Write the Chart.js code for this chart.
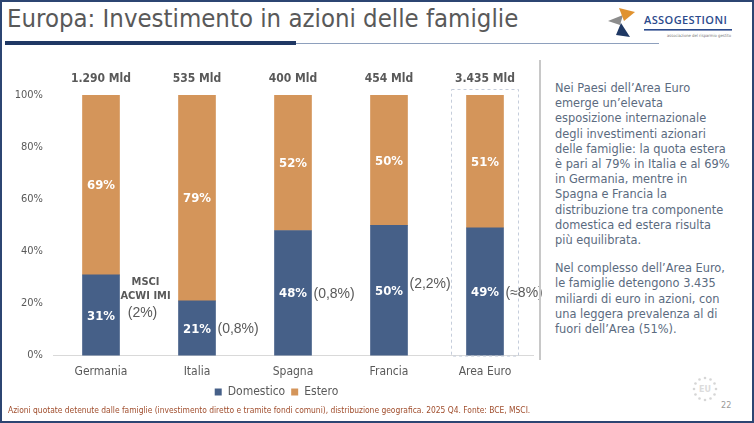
<!DOCTYPE html>
<html lang="it">
<head>
<meta charset="utf-8">
<script src="https://cdn.jsdelivr.net/npm/chart.js@4/dist/chart.umd.min.js"></script>
<style>
  html, body { margin: 0; padding: 0; background: #fff; }
  #page {
    position: relative; width: 754px; height: 423px; box-sizing: border-box;
    border: 2px solid #2c4572; overflow: hidden; font-family: "DejaVu Sans Condensed", "DejaVu Sans", sans-serif;
  }
  #title {
    position: absolute; left: 5px; top: 1px; font-size: 25.5px; color: #595959; white-space: nowrap;
  }
  #rule-thick { position: absolute; left: 3px; top: 39px; width: 291px; height: 4px; background: #1f3864; }
  #rule-thin { position: absolute; left: 294px; top: 41px; width: 363px; height: 1px; background: #8ea0bd; }
  #logo { position: absolute; left: 602px; top: 3px; }
  #chartBox { position: absolute; left: 0; top: 58px; width: 548px; height: 356px; }
  #sep { position: absolute; left: 537px; top: 58px; width: 2px; height: 300px; background: #c8c8c8; }
  #note {
    position: absolute; left: 553px; top: 79px; width: 196px; white-space: nowrap;
    font-family: "DejaVu Sans", sans-serif; font-size: 11.4px; line-height: 15.2px; color: #5b6b80;
  }
  #note p { margin: 0 0 13px 0; }
  #footer {
    position: absolute; left: 6px; top: 403px; font-family: "Liberation Sans Narrow", "DejaVu Sans Condensed", sans-serif;
    font-size: 8.4px; color: #a04d2c; white-space: nowrap;
  }
  #eu { position: absolute; left: 688px; top: 372px; }
  #pagenum { position: absolute; left: 719px; top: 398px; font-size: 9px; color: #9a9a9a; }
</style>
</head>
<body>
<div id="page">
  <div id="title">Europa: Investimento in azioni delle famiglie</div>
  <div id="rule-thick"></div>
  <div id="rule-thin"></div>

  <svg id="logo" width="140" height="40" viewBox="0 0 140 40">
    <polygon points="4,16 19,10 16,20" fill="#8c8c8c"/>
    <polygon points="15,3 20,16 31,7" fill="#e0922f"/>
    <polygon points="17,18 26,32 12,30" fill="#1f3864"/>
    <text x="40" y="19" font-family="Open Sans" font-weight="600" font-size="11" letter-spacing="0.4" fill="#2b4a8c">ASSOGESTIONI</text>
    <rect x="40" y="24" width="88" height="1.6" fill="#2b4a8c"/>
    <text x="127" y="32" text-anchor="end" font-family="DejaVu Sans Condensed" font-size="4.2" fill="#777">associazione del risparmio gestito</text>
  </svg>

  <div id="chartBox"><canvas id="azioniChart"></canvas></div>
  <div id="sep"></div>

  <div id="note">
    <p>Nei Paesi dell’Area Euro<br>emerge un’elevata<br>esposizione internazionale<br>degli investimenti azionari<br>delle famiglie: la quota estera<br>è pari al 79% in Italia e al 69%<br>in Germania, mentre in<br>Spagna e Francia la<br>distribuzione tra componente<br>domestica ed estera risulta<br>più equilibrata.</p>
    <p>Nel complesso dell’Area Euro,<br>le famiglie detengono 3.435<br>miliardi di euro in azioni, con<br>una leggera prevalenza al di<br>fuori dell’Area (51%).</p>
  </div>

  <svg id="eu" width="30" height="30" viewBox="0 0 30 30">
    <g fill="#d6d6d6" id="stars"></g>
    <text x="15" y="18" text-anchor="middle" font-family="DejaVu Sans" font-size="8" font-weight="bold" fill="#dcdcdc">EU</text>
  </svg>
  <div id="pagenum">22</div>

  <div id="footer">Azioni quotate detenute dalle famiglie (investimento diretto e tramite fondi comuni), distribuzione geografica. 2025 Q4. Fonte: BCE, MSCI.</div>
</div>

<script>
// --- DATI ---
const categories = ['Germania', 'Italia', 'Spagna', 'Francia', 'Area Euro'];
const domestico = [31, 21, 48, 50, 49];
const estero = [69, 79, 52, 50, 51];
const totali = ['1.290 Mld', '535 Mld', '400 Mld', '454 Mld', '3.435 Mld'];
const pesiMsci = ['(2%)', '(0,8%)', '(0,8%)', '(2,2%)', '(≈8%)'];
const yTicks = [0, 20, 40, 60, 80, 100];

const BLUE = '#466088';
const ORANGE = '#d4955a';
const GREY = '#595959';
const FONT = '"DejaVu Sans Condensed", "DejaVu Sans", sans-serif';
const NOTE_FONT = '14px "Liberation Sans", Arial, sans-serif';

// EU badge: ring of dots
(function () {
    const g = document.getElementById('stars');
    for (let i = 0; i < 12; i++) {
        const a = i * Math.PI / 6;
        const c = document.createElementNS('http://www.w3.org/2000/svg', 'circle');
        c.setAttribute('cx', 15 + 11 * Math.cos(a));
        c.setAttribute('cy', 15 + 11 * Math.sin(a));
        c.setAttribute('r', 1.3);
        g.appendChild(c);
    }
})();

// sposta la legenda un po' a destra e in alto, come nella slide
const legendShift = {
    id: 'legendShift',
    afterLayout(chart) {
        const lg = chart.legend;
        lg.left += 9; lg.right += 9;
        lg.top -= 8; lg.bottom -= 8;
    }
};

// Etichette sopra le barre, valori dentro, pesi MSCI a destra, riquadro Area Euro
const overlayPlugin = {
    id: 'overlay',
    afterDatasetsDraw(chart) {
        const ctx = chart.ctx;
        const y = chart.scales.y;
        const metaDom = chart.getDatasetMeta(0);
        const metaEst = chart.getDatasetMeta(1);
        ctx.save();

        // riquadro tratteggiato sull'ultima categoria
        const last = metaDom.data[categories.length - 1];
        ctx.strokeStyle = '#c5cddb';
        ctx.lineWidth = 1;
        ctx.setLineDash([3, 3]);
        ctx.strokeRect(Math.round(last.x - 34) + 0.5, Math.round(y.getPixelForValue(100) - 6) + 0.5, 67, y.getPixelForValue(0) - y.getPixelForValue(100) + 6);
        ctx.setLineDash([]);

        ctx.textBaseline = 'middle';
        categories.forEach((c, i) => {
            const bd = metaDom.data[i];
            const be = metaEst.data[i];

            // totale
            ctx.font = 'bold 12px ' + FONT;
            ctx.fillStyle = GREY;
            ctx.textAlign = 'center';
            ctx.fillText(totali[i], bd.x, y.getPixelForValue(100) - 16);

            // percentuali dentro le barre
            ctx.font = 'bold 13px ' + FONT;
            ctx.fillStyle = '#ffffff';
            ctx.fillText(domestico[i] + '%', bd.x, (bd.y + bd.base) / 2 + 1);
            ctx.fillText(estero[i] + '%', be.x, (be.y + be.base) / 2 + 1);

            // peso nell'indice MSCI
            const right = bd.x + bd.width / 2;
            const midDom = (bd.y + bd.base) / 2 + 1;
            ctx.fillStyle = GREY;
            if (i === 0) {
                const cx = right + 26;
                ctx.textAlign = 'center';
                ctx.font = 'bold 11px ' + FONT;
                ctx.fillText('MSCI', cx, midDom - 34);
                ctx.fillText('ACWI IMI', cx, midDom - 20);
                ctx.font = NOTE_FONT;
                ctx.fillText(pesiMsci[i], cx - 3, midDom - 3);
            } else {
                ctx.textAlign = 'left';
                ctx.font = NOTE_FONT;
                ctx.fillText(pesiMsci[i], right + 2, midDom - (i === 3 ? 7 : 0));
            }
        });
        ctx.restore();
    }
};

const ctx = document.getElementById('azioniChart').getContext('2d');
new Chart(ctx, {
    type: 'bar',
    data: {
        labels: categories,
        datasets: [{
            label: 'Domestico',
            data: domestico,
            backgroundColor: BLUE,
            barThickness: 37
        }, {
            label: 'Estero',
            data: estero,
            backgroundColor: ORANGE,
            barThickness: 37
        }]
    },
    options: {
        responsive: true,
        maintainAspectRatio: false,
        animation: false,
        layout: {
            padding: { top: 35, right: 17, bottom: 0, left: 0 }
        },
        plugins: {
            legend: {
                position: 'bottom',
                labels: {
                    color: GREY,
                    font: { family: FONT, size: 12 },
                    usePointStyle: true,
                    pointStyle: 'rect',
                    boxWidth: 7,
                    boxHeight: 7,
                    padding: 6
                }
            },
            tooltip: { enabled: false }
        },
        scales: {
            x: {
                stacked: true,
                grid: { display: false, drawTicks: false },
                border: { display: true, color: '#d9d9d9', width: 1 },
                ticks: { color: GREY, font: { family: FONT, size: 12 }, padding: 9 }
            },
            y: {
                stacked: true,
                min: 0,
                max: 100,
                afterFit(scale) { scale.width = 51; },
                afterBuildTicks(scale) { scale.ticks = yTicks.map(v => ({ value: v })); },
                grid: { display: false, drawTicks: false },
                border: { display: false },
                ticks: {
                    color: GREY,
                    font: { family: FONT, size: 11 },
                    padding: 10,
                    callback: v => v + '%'
                }
            }
        }
    },
    plugins: [overlayPlugin, legendShift]
});
</script>
</body>
</html>
